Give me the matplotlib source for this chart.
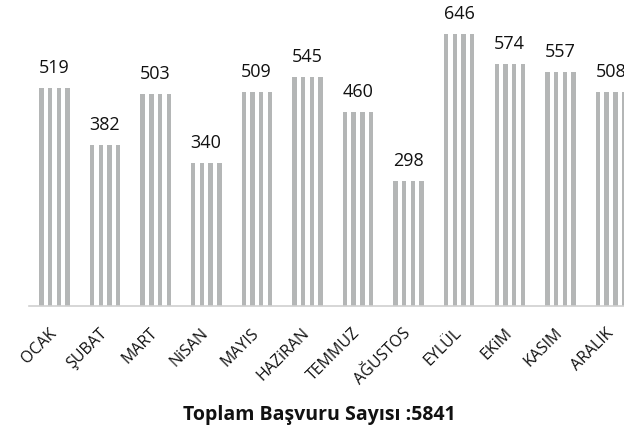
import matplotlib.pyplot as plt
import numpy as np

months = ['OCAK', 'ŞUBAT', 'MART', 'NiSAN', 'MAYIS', 'HAZiRAN',
          'TEMMUZ', 'AĞUSTOS', 'EYLÜL', 'EKiM', 'KASIM', 'ARALIK']
counts = [519, 382, 503, 340, 509, 545, 460, 298, 646, 574, 557, 508]
total_text = 'Toplam Başvuru Sayısı :5841'

plt.rcParams['font.family'] = ['Open Sans', 'DejaVu Sans']

W, H = 624, 436
fig = plt.figure(figsize=(W / 100, H / 100), dpi=100)
# axes run past the right edge, like the cropped original
ax = fig.add_axes([29 / W, (H - 306) / H, 607 / W, 306 / H])

x = np.arange(len(months))
pitch = 607 / 12  # px per category
stripe_w = 4.4 / pitch
for off in [-15.0, -6.3, 2.4, 11.1]:
    ax.bar(x + off / pitch, counts, width=stripe_w, align='edge',
           color='#b4b6b6', linewidth=0)

for xi, v in zip(x, counts):
    ax.annotate(str(v), (xi, v), xytext=(0, 10.8), textcoords='offset points',
                ha='center', va='baseline', fontsize=13, color='#111111')

ax.set_xlim(-0.5, 11.5)
ax.set_ylim(0, 306 / 0.421)
ax.set_xticks(x)
ax.set_xticklabels(months, rotation=45, ha='right', va='center',
                   rotation_mode='anchor', fontsize=11.5, color='#111111')
ax.tick_params(axis='x', length=0, pad=18)
ax.set_yticks([])
for s in ['top', 'right', 'left']:
    ax.spines[s].set_visible(False)
ax.spines['bottom'].set_color('#d0d0d0')
ax.spines['bottom'].set_linewidth(1.2)

fig.text(319 / W, (H - 420) / H, total_text, ha='center', va='baseline',
         fontsize=14, fontweight='bold', color='#111111')

fig.savefig('out.png', dpi=100)
